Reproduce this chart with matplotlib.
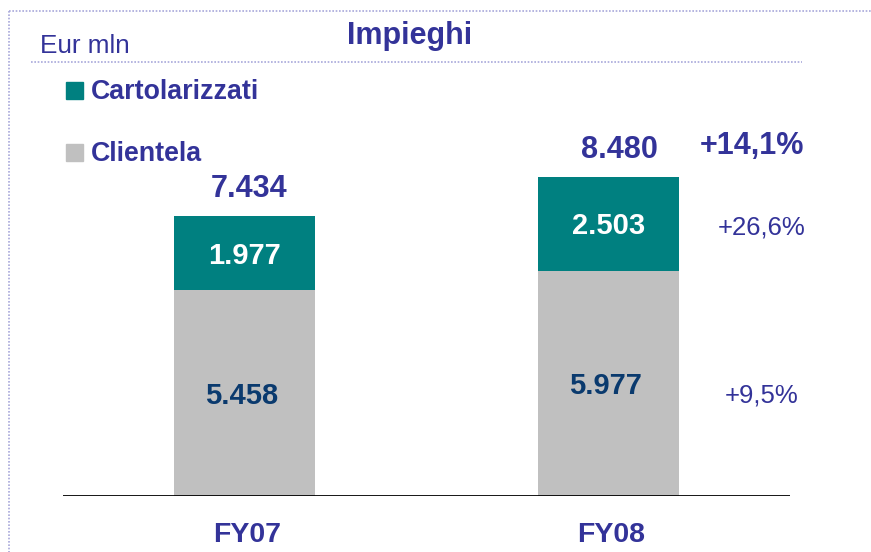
import matplotlib
matplotlib.use("Agg")
import matplotlib.pyplot as plt
from matplotlib.lines import Line2D
from matplotlib.patches import Rectangle

plt.rcParams['font.family'] = ['Liberation Sans', 'DejaVu Sans']

# data (Eur mln)
years = ["FY07", "FY08"]
clientela = [5458, 5977]
cartolarizzati = [1977, 2503]
totals = [7434, 8480]  # as reported (rounded)
title = "Impieghi"
unit = "Eur mln"

TEAL = "#008080"
GREY = "#C0C0C0"
BLUE = "#333399"
NAVY = "#0A3A6E"

W, H = 871, 552


def fx(px):
    return px / W


def fy(py):
    return 1 - py / H


def fmt(v):
    return f"{v:,}".replace(",", ".")


def pct(a, b):
    return ("+%.1f%%" % ((b / a - 1) * 100)).replace(".", ",")


fig = plt.figure(figsize=(W / 100, H / 100), dpi=100)
fig.patch.set_facecolor("white")

# axes: baseline at y=496 px, x from 63 to 790 px
scale = 0.03767  # px per unit
ax = fig.add_axes([fx(63), fy(496), fx(790) - fx(63), (496 - 62) / H])
ax.set_xlim(-0.5, 1.5)
ax.set_ylim(0, 434 / scale)
ax.axis("off")

x = [0, 1]
bw = 141 / 363
ax.bar(x, clientela, width=bw, color=GREY, zorder=2)
ax.bar(x, cartolarizzati, width=bw, bottom=clientela, color=TEAL, zorder=2)
ax.axhline(0, color="black", lw=2, zorder=3)

for i in x:
    top = clientela[i] + cartolarizzati[i]
    # segment values
    ax.annotate(fmt(clientela[i]), (i, clientela[i] / 2), xytext=(-2, -7.5),
                textcoords="offset points", ha="center", va="baseline",
                fontsize=21, fontweight="bold", color=NAVY)
    ax.annotate(fmt(cartolarizzati[i]), (i, clientela[i] + cartolarizzati[i] / 2),
                xytext=(0, -7.5), textcoords="offset points", ha="center",
                va="baseline", fontsize=21, fontweight="bold", color="white")
    # totals
    ax.annotate(fmt(totals[i]), (i, top), xytext=(3 + 5 * i, 13.5),
                textcoords="offset points", ha="center", va="baseline",
                fontsize=22, fontweight="bold", color=BLUE)
    # category labels
    ax.annotate(years[i], (i, 0), xytext=(2, -33), textcoords="offset points",
                ha="center", va="baseline", fontsize=20.5, fontweight="bold",
                color=BLUE, annotation_clip=False)

# growth rates
xp = (761 - 244.5) / 363
ax.annotate(pct(totals[0], totals[1]), ((751 - 244.5) / 363, clientela[1] + cartolarizzati[1]),
            xytext=(0, 16.5), textcoords="offset points", ha="center",
            va="baseline", fontsize=22, fontweight="bold", color=BLUE,
            annotation_clip=False)
ax.annotate(pct(cartolarizzati[0], cartolarizzati[1]),
            (xp, clientela[1] + cartolarizzati[1] / 2), xytext=(0, -8),
            textcoords="offset points", ha="center", va="baseline",
            fontsize=18.5, color=BLUE, annotation_clip=False)
ax.annotate(pct(clientela[0], clientela[1]), (xp, clientela[1] / 2),
            xytext=(0, -14), textcoords="offset points", ha="center",
            va="baseline", fontsize=18.5, color=BLUE, annotation_clip=False)

# header
fig.text(fx(410), fy(44), title, ha="center", va="baseline", fontsize=22,
         fontweight="bold", color=BLUE)
fig.text(fx(40), fy(53), unit, ha="left", va="baseline", fontsize=18.8,
         color=BLUE)

# legend
fig.patches.append(Rectangle((fx(66), fy(99)), fx(17), 17 / H, color=TEAL,
                             transform=fig.transFigure))
fig.patches.append(Rectangle((fx(66), fy(161)), fx(17), 17 / H, color=GREY,
                             transform=fig.transFigure))
fig.text(fx(91), fy(99), "Cartolarizzati", ha="left", va="baseline",
         fontsize=19.3, fontweight="bold", color=BLUE)
fig.text(fx(91), fy(161), "Clientela", ha="left", va="baseline",
         fontsize=19.3, fontweight="bold", color=BLUE)

# dotted frame and separator
dot = dict(color="#A8A8DA", lw=1.2, ls=(0, (1, 1)), transform=fig.transFigure)
fig.lines.append(Line2D([fx(9), fx(9)], [fy(11), 0], **dot))
fig.lines.append(Line2D([fx(9), 1], [fy(11), fy(11)], **dot))
fig.lines.append(Line2D([fx(31), fx(802)], [fy(62), fy(62)], **dot))

fig.savefig("out.png", dpi=100, facecolor="white")
